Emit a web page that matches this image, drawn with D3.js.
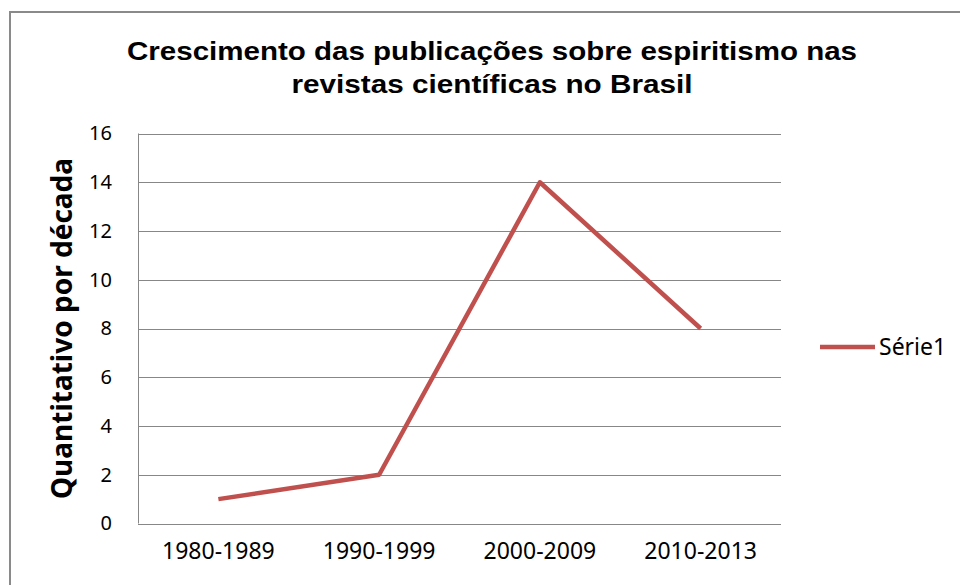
<!DOCTYPE html>
<html>
<head>
<meta charset="utf-8">
<script src="https://cdn.jsdelivr.net/npm/d3@7"></script>
<style>
  body { margin: 0; background: #fff; }
  svg { display: block; }
</style>
</head>
<body>
<svg id="chart"></svg>
<script>
"use strict";

let width = 960;
let height = 585;

// chart data
let categories = ["1980-1989", "1990-1999", "2000-2009", "2010-2013"];
let serie1 = [1, 2, 14, 8];
let yTicks = [0, 2, 4, 6, 8, 10, 12, 14, 16];
let seriesName = "Série1";
let titleLines = ["Crescimento das publicações sobre espiritismo nas", "revistas científicas no Brasil"];
let titleWidths = [730, 401]; // the original title is drawn slightly stretched
let yTitle = "Quantitativo por década";

let lineColor = "#C0504D";
let gridColor = "#878787";

let svg = d3.select("#chart")
  .attr("width", width)
  .attr("height", height);

// outer chart frame (runs off right and bottom)
svg.append("rect")
  .attr("x", 10)
  .attr("y", 12)
  .attr("width", 1000)
  .attr("height", 700)
  .attr("fill", "#fff")
  .attr("stroke", "#8a8a8a")
  .attr("stroke-width", 2);

let plot = { left: 138, right: 781, top: 133.5, bottom: 523.5 };

let x = d3.scaleBand()
  .domain(categories)
  .range([plot.left, plot.right]);

let y = d3.scaleLinear()
  .domain([0, 16])
  .range([plot.bottom, plot.top]);

// gridlines
svg.append("g")
  .selectAll("line")
  .data(yTicks)
  .enter()
  .append("line")
  .attr("x1", plot.left)
  .attr("x2", plot.right)
  .attr("y1", d => Math.round(y(d)) + 0.5)
  .attr("y2", d => Math.round(y(d)) + 0.5)
  .attr("stroke", gridColor)
  .attr("stroke-width", 1);

// left axis line
svg.append("line")
  .attr("x1", plot.left + 0.5)
  .attr("x2", plot.left + 0.5)
  .attr("y1", plot.top)
  .attr("y2", plot.bottom)
  .attr("stroke", gridColor);

// y tick labels
let yAxis = svg.append("g")
  .attr("transform", `translate(${plot.left},0)`)
  .call(d3.axisLeft(y).tickValues(yTicks).tickSize(0).tickPadding(26));
yAxis.select(".domain").remove();
yAxis.selectAll("text")
  .style("font-family", "'Noto Sans', sans-serif")
  .style("font-size", "20px")
  .attr("fill", "#000");

// x labels
let xAxis = svg.append("g")
  .attr("transform", `translate(0,${plot.bottom})`)
  .call(d3.axisBottom(x).tickSize(0).tickPadding(19));
xAxis.select(".domain").remove();
xAxis.selectAll("text")
  .style("font-family", "'Noto Sans', sans-serif")
  .style("font-size", "23px")
  .attr("fill", "#000");

// series line
let line = d3.line()
  .x((d, i) => x(categories[i]) + x.bandwidth() / 2)
  .y(d => y(d));

svg.append("path")
  .datum(serie1)
  .attr("d", line)
  .attr("fill", "none")
  .attr("stroke", lineColor)
  .attr("stroke-width", 4.5)
  .attr("stroke-linejoin", "round");

// title
svg.append("g")
  .selectAll("text")
  .data(titleLines)
  .enter()
  .append("text")
  .attr("x", 492)
  .attr("y", (d, i) => 60 + i * 33)
  .attr("text-anchor", "middle")
  .attr("textLength", (d, i) => titleWidths[i])
  .attr("lengthAdjust", "spacingAndGlyphs")
  .style("font-family", "'Liberation Sans', Arial, sans-serif")
  .style("font-weight", "bold")
  .style("font-size", "26px")
  .text(d => d);

// y axis title
svg.append("text")
  .attr("transform", `translate(72,${(plot.top + plot.bottom) / 2}) rotate(-90)`)
  .attr("text-anchor", "middle")
  .style("font-family", "'Noto Sans', sans-serif")
  .style("font-weight", "bold")
  .style("font-size", "28px")
  .text(yTitle);

// legend
let legend = svg.append("g").attr("transform", "translate(820,347)");
legend.append("line")
  .attr("x1", 0)
  .attr("x2", 55)
  .attr("stroke", lineColor)
  .attr("stroke-width", 4.5);
legend.append("text")
  .attr("x", 59)
  .attr("y", 8)
  .style("font-family", "'Noto Sans', sans-serif")
  .style("font-size", "23px")
  .text(seriesName);
</script>
</body>
</html>
